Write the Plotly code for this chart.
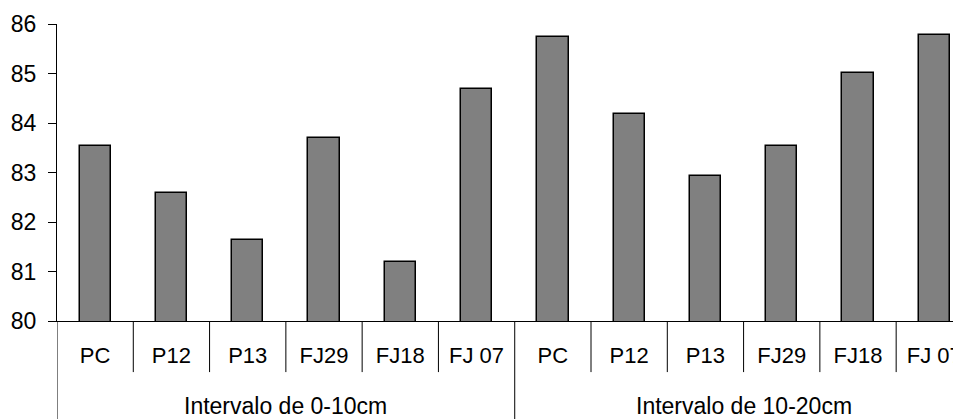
import plotly.graph_objects as go

# ---- data ----
groups = ["Intervalo de 0-10cm", "Intervalo de 10-20cm"]
categories = ["PC", "P12", "P13", "FJ29", "FJ18", "FJ 07"]
values_0_10 = [83.53, 82.58, 81.63, 83.69, 81.19, 84.69]
values_10_20 = [85.74, 84.19, 82.92, 83.53, 85.01, 85.77]
y_ticks = [80, 81, 82, 83, 84, 85, 86]

all_values = values_0_10 + values_10_20
all_labels = categories + categories
xs = list(range(len(all_values)))

FONT = "Arial, Liberation Sans, sans-serif"
FS = 23

fig = go.Figure()
fig.add_trace(go.Bar(
    x=xs, y=all_values, width=0.41,
    marker=dict(color="#808080", line=dict(color="black", width=1.5)),
    showlegend=False,
))

# dividers (category boundaries) and group labels
shapes = []
annotations = []
n_per_group = len(categories)
total = len(all_values)
group_edges = {g * n_per_group for g in range(len(groups) + 1)}
for b in range(total + 1):
    is_group = b in group_edges
    shapes.append(dict(
        type="line", xref="x", yref="paper",
        x0=b - 0.5, x1=b - 0.5,
        y0=0, y1=-0.34 if is_group else -0.172,
        line=dict(color="black", width=1),
    ))
for g, name in enumerate(groups):
    center = g * n_per_group + (n_per_group - 1) / 2
    annotations.append(dict(
        x=center, y=-0.286, xref="x", yref="paper",
        text=name, showarrow=False, yanchor="middle",
        font=dict(family=FONT, size=FS, color="black"),
    ))

fig.update_layout(
    width=953, height=411,
    margin=dict(l=49, r=0, t=16, b=98),
    paper_bgcolor="white", plot_bgcolor="white",
    shapes=shapes, annotations=annotations,
    font=dict(family=FONT, size=FS, color="black"),
    bargap=0,
)
fig.update_xaxes(
    range=[-0.5, 11.35],
    tickvals=xs, ticktext=all_labels,
    showline=True, linecolor="black", linewidth=1,
    ticks="", showgrid=False, zeroline=False,
    tickfont=dict(family=FONT, size=22, color="black"),
    ticklabelstandoff=15,
    ticklabeloverflow="allow",
    automargin=False,
)
fig.update_yaxes(
    range=[80, 86], tickvals=y_ticks,
    showline=True, linecolor="black", linewidth=1,
    ticks="outside", ticklen=8, tickcolor="black", tickwidth=1,
    showgrid=False, zeroline=False,
    tickfont=dict(family=FONT, size=FS, color="black"),
    ticklabelstandoff=7,
    automargin=False,
)

fig.write_html("out.html")
